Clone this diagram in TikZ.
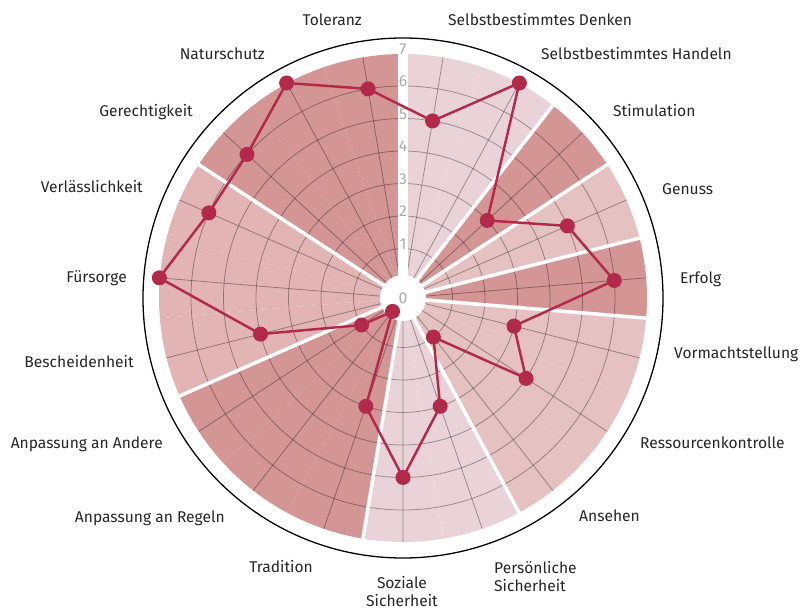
\documentclass[tikz,border=0pt]{standalone}
\usepackage{fontspec}
\setmainfont{Fira Sans}
\definecolor{sektorhell}{HTML}{E9D3D9}
\definecolor{sektormittel}{HTML}{E2B4B4}
\definecolor{sektorzart}{HTML}{E6C1C1}
\definecolor{sektordunkel}{HTML}{D49595}
\definecolor{datenrot}{HTML}{B3294A}
\definecolor{skalagrau}{HTML}{ABABAB}
\tikzset{
  gitter/.style={black, opacity=0.35, line width=0.65pt},
  trennlinie/.style={white, line width=3pt},
  datenlinie/.style={datenrot, line width=2.1pt, line join=round},
  datenpunkt/.style={fill=datenrot},
  skala/.style={skalagrau, font=\fontsize{13.5}{15}\selectfont, inner sep=0pt},
  wertname/.style={text=black!85, font=\fontsize{13.3}{15.3}\selectfont, inner sep=0pt}
}
\begin{document}
\begin{tikzpicture}[x=0.03cm, y=0.03cm]
    \useasboundingbox (-403,-313) rectangle (402,298);

    % Sektoren
    \foreach \k/\farbe in {0/hell,1/hell,2/dunkel,3/zart,4/dunkel,5/zart,6/zart,7/zart,8/hell,9/hell,
                           10/dunkel,11/dunkel,12/dunkel,13/mittel,14/mittel,15/mittel,16/dunkel,17/dunkel,18/dunkel}
        \fill[sektor\farbe] (0,0) -- ({90-18.947*\k}:244)
            arc[start angle={90-18.947*\k}, end angle={90-18.947*(\k+1)}, radius=244] -- cycle;

    % Gitter
    \foreach \v in {1,...,6}
        \draw[gitter] (0,0) circle[radius={17+32.5*\v}];
    \foreach \k in {0,...,18}
        \draw[gitter] (0,0) -- ({80.526-18.947*\k}:244);

    % Trennlinien der Gruppen
    \foreach \k in {2,3,4,5,8,10,13,16}
        \draw[trennlinie] (0,0) -- ({90-18.947*\k}:250);
    \draw[white, line width=8.5pt] (0,0) -- (90:250);
    \fill[white] (0,0) circle[radius=23];

    % Skala
    \node[skala, anchor=base] (skala0) at (0,-5) {0};
    \foreach \v in {1,...,7}
        \node[skala, anchor=base] (skala\v) at (0,{16+32.5*\v}) {\v};

    % Werte
    \foreach \k/\w in {0/5,1/7,2/3,3/5,4/6,5/3,6/4,7/1,8/3,9/5,10/3,11/0,12/1,13/4,14/7,15/6,16/6,17/7,18/6}
        \coordinate (p\k) at ({80.526-18.947*\k}:{17+32.5*\w});
    \draw[datenlinie] (p0) \foreach \k in {1,...,18}{ -- (p\k)} -- cycle;
    \foreach \k in {0,...,18}
        \fill[datenpunkt] (p\k) circle[radius=7.5];

    \draw[black, line width=1.1pt] (0,0) circle[radius=260];

    % Beschriftungen
    \node[wertname, anchor=base west] (denken) at (45,272) {Selbstbestimmtes Denken};
    \node[wertname, anchor=base west] (handeln) at (138,238) {Selbstbestimmtes Handeln};
    \node[wertname, anchor=base west] (stimulation) at (210,181) {Stimulation};
    \node[wertname, anchor=base west] (genuss) at (259,104) {Genuss};
    \node[wertname, anchor=base west] (erfolg) at (277,15) {Erfolg};
    \node[wertname, anchor=base west] (vormacht) at (271,-60) {Vormachtstellung};
    \node[wertname, anchor=base west] (ressourcen) at (237,-150) {Ressourcenkontrolle};
    \node[wertname, anchor=base west] (ansehen) at (176,-223) {Ansehen};
    \node[wertname, anchor=north west, align=left] (persoenlich) at (91,-263) {Persönliche\\Sicherheit};
    \node[wertname, anchor=north, align=center] (sozial) at (-1,-278) {Soziale\\Sicherheit};
    \node[wertname, anchor=base east] (tradition) at (-90,-274) {Tradition};
    \node[wertname, anchor=base east] (regeln) at (-178,-224) {Anpassung an Regeln};
    \node[wertname, anchor=base east] (andere) at (-240,-150) {Anpassung an Andere};
    \node[wertname, anchor=base east] (bescheiden) at (-269,-69) {Bescheidenheit};
    \node[wertname, anchor=base east] (fuersorge) at (-276,16) {Fürsorge};
    \node[wertname, anchor=base east] (verlass) at (-260,105) {Verlässlichkeit};
    \node[wertname, anchor=base east] (gerecht) at (-210,181) {Gerechtigkeit};
    \node[wertname, anchor=base east] (natur) at (-138,238) {Naturschutz};
    \node[wertname, anchor=base east] (toleranz) at (-41,272) {Toleranz};
\end{tikzpicture}
\end{document}
